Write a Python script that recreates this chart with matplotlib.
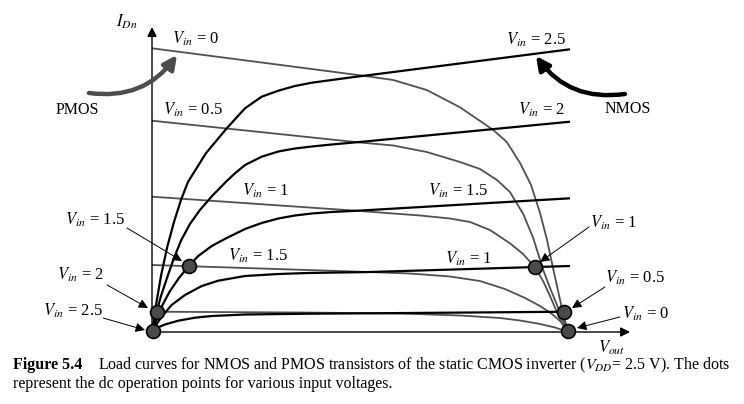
"""Load curves of the static CMOS inverter (NMOS / PMOS), VDD = 2.5 V."""

import matplotlib

matplotlib.use("Agg")
import matplotlib.pyplot as plt

plt.rcParams["font.family"] = ["Liberation Serif", "DejaVu Serif"]
plt.rcParams["mathtext.fontset"] = "stix"

# Load curves: Vout in volts, I_Dn in arbitrary units
nmos_vin = [2.5, 2.0, 1.5, 1.0, 0.5]
nmos_vout = [
    [0, 0.024, 0.054, 0.090, 0.132, 0.174, 0.216, 0.325, 0.449, 0.559,
     0.659, 0.759, 0.859, 0.960, 1.080, 1.200, 1.310, 2.512],
    [0, 0.024, 0.054, 0.090, 0.132, 0.176, 0.228, 0.288, 0.361, 0.449,
     0.499, 0.559, 0.659, 0.759, 0.859, 0.960, 1.080, 1.200, 1.310, 2.512],
    [0, 0.030, 0.066, 0.108, 0.162, 0.221, 0.278, 0.359, 0.437, 0.559,
     0.659, 0.759, 0.859, 0.960, 1.080, 1.200, 1.310, 2.512],
    [0, 0.024, 0.058, 0.118, 0.198, 0.299, 0.398, 0.559, 0.759, 0.939,
     1.130, 1.310, 2.512],
    [0, 0.036, 0.078, 0.158, 0.258, 0.359, 0.559, 0.939, 1.310, 2.512],
]
nmos_id = [
    [0, 0.27, 0.56, 0.84, 1.10, 1.32, 1.50, 1.79, 2.037, 2.237,
     2.353, 2.413, 2.46, 2.493, 2.52, 2.547, 2.57, 2.827],
    [0, 0.18, 0.36, 0.54, 0.74, 0.92, 1.08, 1.22, 1.36, 1.51,
     1.587, 1.67, 1.753, 1.805, 1.835, 1.855, 1.875, 1.893, 1.91, 2.103],
    [0, 0.14, 0.28, 0.41, 0.54, 0.66, 0.76, 0.86, 0.93, 1.03,
     1.09, 1.135, 1.165, 1.185, 1.20, 1.21, 1.22, 1.337],
    [0, 0.07, 0.153, 0.27, 0.37, 0.46, 0.513, 0.56, 0.58, 0.59,
     0.595, 0.60, 0.66],
    [0, 0.045, 0.075, 0.113, 0.143, 0.16, 0.175, 0.183, 0.187, 0.203],
]

pmos_vin = [0.0, 0.5, 1.0, 1.5, 2.0]
pmos_vout = [
    [0, 0.589, 1.250, 1.450, 1.651, 1.851, 2.051, 2.132, 2.212, 2.278,
     2.332, 2.374, 2.410, 2.443, 2.470, 2.491, 2.500],
    [0, 1.250, 1.450, 1.651, 1.851, 1.971, 2.073, 2.151, 2.231, 2.291,
     2.351, 2.392, 2.434, 2.464, 2.488, 2.500],
    [0, 1.250, 1.611, 1.791, 1.911, 2.031, 2.151, 2.230, 2.302, 2.350,
     2.392, 2.428, 2.458, 2.482, 2.500],
    [0, 1.250, 1.550, 1.791, 1.971, 2.121, 2.242, 2.332, 2.404, 2.452,
     2.482, 2.500],
    [0, 0.889, 1.490, 1.851, 2.091, 2.212, 2.332, 2.422, 2.500],
]
pmos_id = [
    [2.837, 2.71, 2.567, 2.52, 2.42, 2.247, 2.02, 1.90, 1.69, 1.47,
     1.19, 0.92, 0.64, 0.39, 0.19, 0.06, 0],
    [2.113, 1.895, 1.865, 1.80, 1.70, 1.63, 1.52, 1.40, 1.18, 0.94,
     0.62, 0.44, 0.27, 0.14, 0.05, 0],
    [1.353, 1.21, 1.165, 1.135, 1.10, 1.02, 0.887, 0.78, 0.647, 0.51,
     0.36, 0.22, 0.11, 0.035, 0],
    [0.67, 0.603, 0.585, 0.555, 0.51, 0.43, 0.34, 0.26, 0.18, 0.11,
     0.05, 0],
    [0.203, 0.195, 0.185, 0.165, 0.14, 0.115, 0.08, 0.045, 0],
]

# dc operating points
op_vin = [2.5, 2.0, 1.5, 1.0, 0.5, 0.0]
op_vout = [0.006, 0.030, 0.221, 2.302, 2.476, 2.497]
op_id = [0.013, 0.203, 0.658, 0.647, 0.203, 0.013]


def vin_label(v):
    return r"$V_{in}$" + " = " + f"{v:g}"


fig = plt.figure(figsize=(7.44, 4.04), dpi=100)
ax = fig.add_axes([0, 0, 1, 1])
ax.set_xlim(-0.9135, 3.5577)
ax.set_ylim(-0.72, 3.32)
ax.axis("off")

for xs, ys in zip(pmos_vout, pmos_id):
    ax.plot(xs, ys, color="#505050", lw=1.3, solid_capstyle="butt",
            solid_joinstyle="round", zorder=2)
for xs, ys in zip(nmos_vout, nmos_id):
    ax.plot(xs, ys, color="black", lw=1.6, solid_capstyle="butt",
            solid_joinstyle="round", zorder=3)

ax.plot(op_vout, op_id, "o", ms=10, mfc="#4a4a4a", mec="black", mew=1.2,
        zorder=5, clip_on=False)

# axes with arrows
axis_arrow = dict(arrowstyle="-|>", color="black", lw=1.0, mutation_scale=14,
                  shrinkA=0, shrinkB=0)
ax.annotate("", xy=(2.873, 0), xytext=(0, 0), arrowprops=axis_arrow)
ax.annotate("", xy=(0, 3.05), xytext=(0, 0), arrowprops=axis_arrow)
ax.text(-0.15, 3.10, r"$I_{Dn}$", fontsize=12, ha="center", va="center")
ax.text(2.764, -0.155, r"$V_{out}$", fontsize=12, ha="center", va="center")

# device tags with curved arrows
ax.text(-0.451, 2.22, "PMOS", fontsize=11.5, ha="center", va="center")
ax.text(2.861, 2.23, "NMOS", fontsize=11.5, ha="center", va="center")
ax.annotate("", xy=(0.150, 2.77), xytext=(-0.379, 2.39),
            arrowprops=dict(arrowstyle="-|>", color="#4d4d4d", lw=3.2,
                            mutation_scale=20, shrinkA=0, shrinkB=0,
                            connectionstyle="arc3,rad=0.3"))
ax.annotate("", xy=(2.308, 2.76), xytext=(2.842, 2.38),
            arrowprops=dict(arrowstyle="-|>", color="black", lw=3.2,
                            mutation_scale=20, shrinkA=0, shrinkB=0,
                            connectionstyle="arc3,rad=-0.3"))

# curve labels
lab = dict(fontsize=12, va="center")
ax.text(0.120, 2.93, vin_label(pmos_vin[0]), ha="left", **lab)
ax.text(0.066, 2.22, vin_label(pmos_vin[1]), ha="left", **lab)
ax.text(0.541, 1.41, vin_label(pmos_vin[2]), ha="left", **lab)
ax.text(0.457, 0.76, vin_label(pmos_vin[3]), ha="left", **lab)
ax.text(2.488, 2.92, vin_label(nmos_vin[0]), ha="right", **lab)
ax.text(2.482, 2.22, vin_label(nmos_vin[1]), ha="right", **lab)
ax.text(1.659, 1.41, vin_label(nmos_vin[2]), ha="left", **lab)
ax.text(1.761, 0.73, vin_label(nmos_vin[3]), ha="left", **lab)

# operating point call-outs
callouts = [
    ((-0.523, 1.12), (-0.150, 1.04), (0.180, 0.71)),
    ((-0.571, 0.57), (-0.270, 0.47), (-0.024, 0.24)),
    ((-0.655, 0.21), (-0.294, 0.14), (-0.042, 0.02)),
    ((2.632, 1.09), (2.626, 1.05), (2.332, 0.70)),
    ((2.722, 0.54), (2.722, 0.45), (2.524, 0.24)),
    ((2.825, 0.18), (2.812, 0.15), (2.554, 0.04)),
]
callout_vin = [1.5, 2.0, 2.5, 1.0, 0.5, 0.0]
for v, (txt_pos, tail, tip) in zip(callout_vin, callouts):
    ax.text(txt_pos[0], txt_pos[1], vin_label(v), ha="left", **lab)
    ax.annotate("", xy=tip, xytext=tail,
                arrowprops=dict(arrowstyle="-|>", color="black", lw=0.7,
                                mutation_scale=14, shrinkA=0, shrinkB=0),
                zorder=6)

# caption
fig.text(0.0175, 0.0965, "Figure 5.4", fontsize=11.5, fontweight="bold",
         va="center")
fig.text(0.1317, 0.0965,
         "Load curves for NMOS and PMOS transistors of the static CMOS "
         r"inverter ($V_{DD}$= 2.5 V). The dots",
         fontsize=11.5, va="center")
fig.text(0.0175, 0.0495,
         "represent the dc operation points for various input voltages.",
         fontsize=11.5, va="center")

fig.savefig("out.png", dpi=100, facecolor="white")
